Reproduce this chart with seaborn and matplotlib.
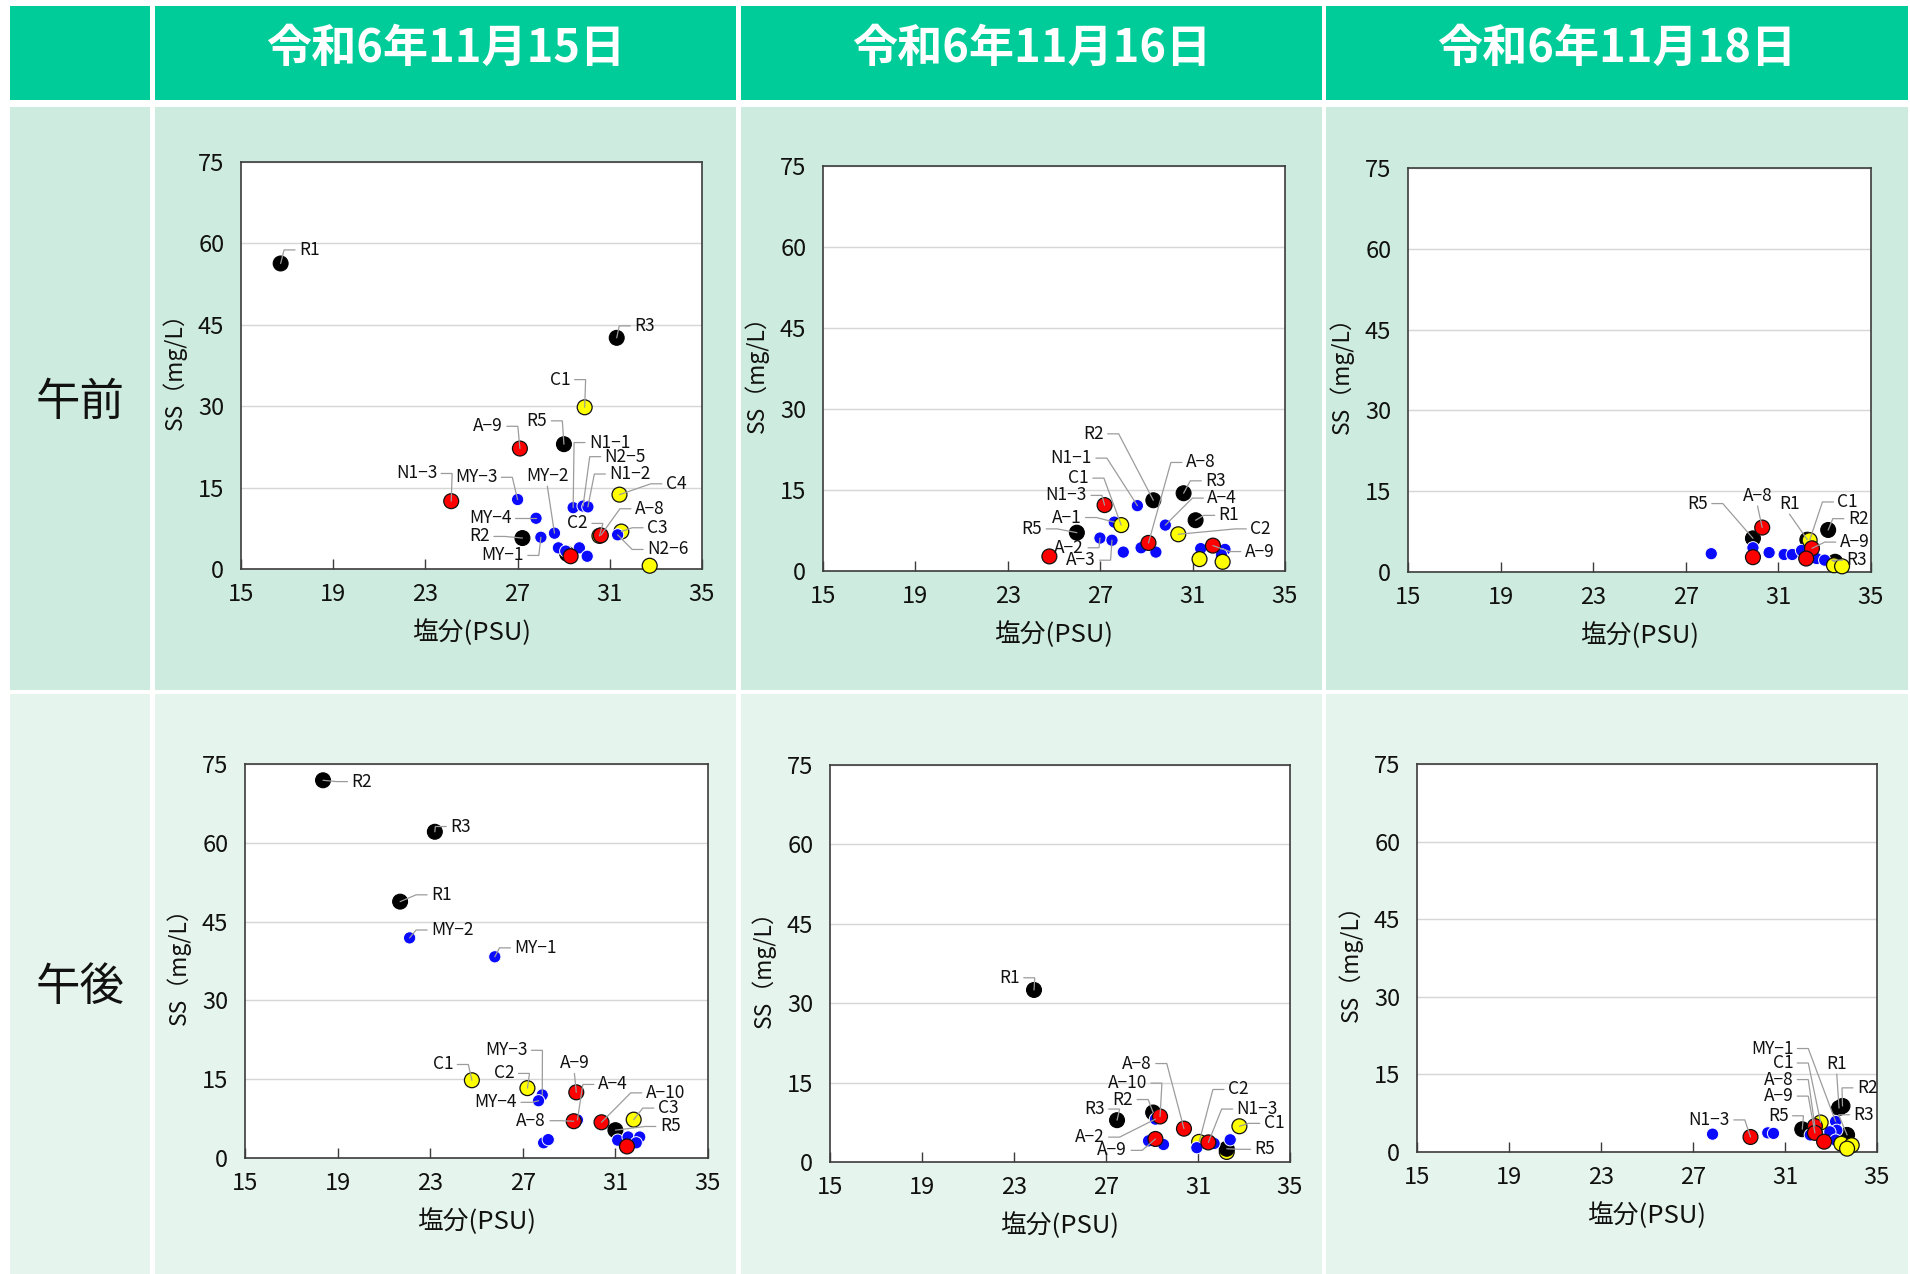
import numpy as np
import pandas as pd
import matplotlib
matplotlib.use("Agg")
import matplotlib.pyplot as plt
from matplotlib.patches import Rectangle
import seaborn as sns

# ---------------------------------------------------------------------------
# Data: salinity (PSU) and SS (mg/L) per station, per survey date / session.
# group: R = river mouth (black), A = red, C = yellow, M = blue
# labels: station -> (text x, text y, side)  side L: text left of leader,
#         R: text right of leader, B: leader leaves from below the text
# ---------------------------------------------------------------------------
dates = ["令和6年11月15日", "令和6年11月16日", "令和6年11月18日"]
sessions = ["午前", "午後"]

# 11/15 午前
am15_station = ["R1", "R3", "R5", "R2", "", "C1", "C4", "C2", "C3", "",
                "MY-3", "MY-4", "MY-1", "MY-2", "N1-1", "N2-5", "N1-2", "N2-6", "", "", "", "",
                "A-9", "N1-3", "A-8", ""]
am15_salinity = [16.72, 31.3, 29.01, 27.21, 29.15, 29.91, 31.42, 30.55, 31.5, 32.73,
                 27.0, 27.8, 28.01, 28.6, 29.41, 29.84, 30.05, 31.34, 28.77, 29.09, 29.68, 30.02,
                 27.1, 24.12, 30.61, 29.3]
am15_ss = [56.3, 42.6, 23.0, 5.7, 2.8, 29.8, 13.7, 6.1, 6.9, 0.6,
           12.8, 9.35, 5.85, 6.6, 11.3, 11.6, 11.45, 6.3, 3.9, 3.3, 3.9, 2.35,
           22.2, 12.5, 6.2, 2.35]
am15_group = ["R", "R", "R", "R", "R", "C", "C", "C", "C", "C",
              "M", "M", "M", "M", "M", "M", "M", "M", "M", "M", "M", "M",
              "A", "A", "A", "A"]
am15_labels = {
    "R1": (17.52, 58.8, "R"), "R3": (32.06, 44.8, "R"), "C1": (29.3, 34.9, "L"),
    "A-9": (26.36, 26.3, "L"), "R5": (28.29, 27.3, "L"), "N1-1": (30.1, 23.3, "R"),
    "N2-5": (30.78, 20.7, "R"), "N1-2": (30.98, 17.5, "R"), "C4": (33.43, 15.7, "R"),
    "A-8": (32.09, 11.1, "R"), "C2": (30.05, 8.4, "L"), "C3": (32.62, 7.6, "R"),
    "N2-6": (32.62, 3.6, "R"), "N1-3": (23.51, 17.6, "L"), "MY-3": (26.12, 16.9, "L"),
    "MY-2": (28.29, 17.1, "B"), "MY-4": (26.73, 9.35, "L"), "R2": (25.8, 6.0, "L"),
    "MY-1": (27.27, 2.5, "L"),
}

# 11/16 午前
am16_station = ["R2", "R3", "R1", "R5",
                "N1-1", "A-1", "A-4", "A-2", "A-3", "", "", "", "", "", "",
                "C1", "C2", "", "",
                "N1-3", "A-8", "A-9", ""]
am16_salinity = [29.3, 30.61, 31.13, 25.99,
                 28.61, 27.61, 29.82, 26.99, 27.51, 28.0, 28.77, 29.41, 31.35, 32.4, 32.25,
                 27.91, 30.38, 31.3, 32.3,
                 27.19, 29.09, 31.88, 24.8]
am16_ss = [13.1, 14.4, 9.4, 7.1,
           12.1, 9.05, 8.5, 6.1, 5.7, 3.5, 4.3, 3.5, 4.15, 4.0, 3.0,
           8.5, 6.8, 2.2, 1.7,
           12.2, 5.2, 4.7, 2.7]
am16_group = ["R", "R", "R", "R",
              "M", "M", "M", "M", "M", "M", "M", "M", "M", "M", "M",
              "C", "C", "C", "C",
              "A", "A", "A", "A"]
am16_labels = {
    "R2": (27.15, 25.4, "L"), "N1-1": (26.64, 20.9, "L"), "A-8": (30.71, 20.1, "R"),
    "C1": (26.51, 17.2, "L"), "R3": (31.55, 16.7, "R"), "N1-3": (26.43, 14.0, "L"),
    "A-4": (31.64, 13.5, "R"), "R1": (32.13, 10.3, "R"), "A-1": (26.19, 9.9, "L"),
    "C2": (33.5, 7.8, "R"), "R5": (24.49, 7.8, "L"), "A-2": (26.3, 4.3, "L"),
    "A-9": (33.26, 3.6, "R"), "A-3": (26.8, 2.0, "L"),
}

# 11/18 午前
am18_station = ["R5", "R1", "R2", "R3",
                "", "", "", "", "", "", "", "",
                "C1", "", "",
                "A-8", "A-9", "", ""]
am18_salinity = [29.9, 32.25, 33.15, 33.45,
                 28.1, 29.9, 30.6, 31.25, 31.6, 32.0, 32.65, 33.0,
                 32.35, 33.4, 33.75,
                 30.3, 32.45, 29.9, 32.2]
am18_ss = [6.25, 6.0, 7.8, 1.9,
           3.4, 4.5, 3.6, 3.25, 3.25, 4.0, 2.5, 2.2,
           5.9, 1.25, 1.05,
           8.25, 4.4, 2.75, 2.5]
am18_group = ["R", "R", "R", "R",
              "M", "M", "M", "M", "M", "M", "M", "M",
              "C", "C", "C",
              "A", "A", "A", "A"]
am18_labels = {
    "R5": (27.95, 12.7, "L"), "A-8": (30.1, 14.1, "B"), "R1": (31.48, 12.6, "B"),
    "C1": (33.55, 13.0, "R"), "R2": (34.0, 9.9, "R"), "A-9": (33.65, 5.55, "R"),
    "R3": (33.95, 2.2, "R"),
}

# 11/15 午後
pm15_station = ["R2", "R3", "R1", "R5",
                "C1", "C2", "C3",
                "MY-2", "MY-1", "MY-3", "MY-4", "A-4", "", "", "", "", "", "",
                "A-9", "A-8", "A-10", ""]
pm15_salinity = [18.37, 23.2, 21.7, 31.0,
                 24.8, 27.2, 31.79,
                 22.11, 25.79, 27.84, 27.68, 29.36, 27.9, 28.1, 31.1, 31.55, 32.05, 31.9,
                 29.31, 29.2, 30.4, 31.5]
pm15_ss = [71.9, 62.1, 48.8, 5.3,
           14.8, 13.3, 7.3,
           41.9, 38.3, 12.0, 10.9, 7.25, 2.9, 3.5, 3.4, 4.0, 4.0, 2.9,
           12.5, 7.0, 6.8, 2.2]
pm15_group = ["R", "R", "R", "R",
              "C", "C", "C",
              "M", "M", "M", "M", "M", "M", "M", "M", "M", "M", "M",
              "A", "A", "A", "A"]
pm15_labels = {
    "R2": (19.6, 71.65, "R"), "R3": (23.87, 63.1, "R"), "R1": (23.04, 50.1, "R"),
    "MY-2": (23.04, 43.4, "R"), "MY-1": (26.64, 40.0, "R"), "C1": (24.0, 17.8, "L"),
    "MY-3": (27.2, 20.5, "L"), "A-9": (29.23, 18.0, "B"), "C2": (26.64, 16.1, "L"),
    "A-4": (30.24, 14.0, "R"), "A-10": (32.31, 12.4, "R"), "MY-4": (26.75, 10.6, "L"),
    "C3": (32.83, 9.5, "R"), "A-8": (28.0, 7.1, "L"), "R5": (32.92, 6.0, "R"),
}

# 11/16 午後
pm16_station = ["R1", "R3", "R2",
                "C2", "C1", "",
                "R5",
                "A-2", "", "", "", "", "",
                "A-10", "A-8", "A-9", "N1-3"]
pm16_salinity = [23.87, 27.48, 29.05,
                 31.05, 32.8, 32.25,
                 32.25,
                 29.15, 28.85, 29.5, 30.95, 31.7, 32.4,
                 29.35, 30.39, 29.15, 31.45]
pm16_ss = [32.5, 7.9, 9.35,
           3.8, 6.75, 1.9,
           2.5,
           8.1, 4.0, 3.3, 2.7, 3.5, 4.2,
           8.6, 6.3, 4.35, 3.7]
pm16_group = ["R", "R", "R",
              "C", "C", "C",
              "R",
              "M", "M", "M", "M", "M", "M",
              "A", "A", "A", "A"]
pm16_labels = {
    "R1": (23.25, 34.8, "L"), "A-8": (28.99, 18.6, "L"), "A-10": (28.78, 14.9, "L"),
    "R2": (28.18, 11.8, "L"), "R3": (26.94, 10.0, "L"), "C2": (32.3, 13.7, "R"),
    "N1-3": (32.68, 10.0, "R"), "C1": (33.86, 7.3, "R"), "A-2": (26.94, 4.7, "L"),
    "A-9": (27.92, 2.2, "L"), "R5": (33.46, 2.4, "R"),
}

# 11/18 午後
pm18_station = ["R5", "R1", "R2", "R3",
                "", "", "", "", "MY-1", "", "", "",
                "C1", "", "", "",
                "N1-3", "A-8", "A-9", ""]
pm18_salinity = [31.75, 33.35, 33.5, 33.7,
                 27.85, 30.25, 30.5, 32.1, 33.2, 33.25, 32.95, 33.2,
                 32.55, 33.45, 33.9, 33.7,
                 29.5, 32.3, 32.3, 32.7]
pm18_ss = [4.4, 8.5, 8.9, 3.3,
           3.45, 3.7, 3.6, 3.3, 5.9, 4.2, 3.9, 2.3,
           5.7, 1.6, 1.3, 0.65,
           2.9, 5.0, 3.7, 2.0]
pm18_group = ["R", "R", "R", "R",
              "M", "M", "M", "M", "M", "M", "M", "M",
              "C", "C", "C", "C",
              "A", "A", "A", "A"]
pm18_labels = {
    "MY-1": (31.36, 20.0, "L"), "C1": (31.36, 17.2, "L"), "R1": (33.25, 17.0, "B"),
    "A-8": (31.36, 14.0, "L"), "R2": (34.13, 12.4, "R"), "A-9": (31.36, 10.8, "L"),
    "R3": (33.98, 7.2, "R"), "R5": (31.15, 7.0, "L"), "N1-3": (28.6, 6.2, "L"),
}

x_ticks = [15, 19, 23, 27, 31, 35]
y_ticks = [0, 15, 30, 45, 60, 75]

# ---------------------------------------------------------------------------
# Style
# ---------------------------------------------------------------------------
sns.set_theme(style="white")
plt.rcParams["font.family"] = ["Noto Sans CJK JP", "DejaVu Sans"]

fill_colors = {"R": "#000000", "A": "#ff0000", "C": "#ffff00", "M": "#0a0aff"}
marker_sizes = {"R": 115, "A": 115, "C": 115, "M": 78}
edge_colors = {"R": "#000000", "A": "#111111", "C": "#111111", "M": "#ffffff"}
edge_widths = {"R": 0.8, "A": 0.9, "C": 0.9, "M": 0.7}

W, H = 1910, 1274
fig = plt.figure(figsize=(W / 100, H / 100), dpi=100)
fig.patch.set_facecolor("white")

# Table background (pixel coordinates)
bg = fig.add_axes([0, 0, 1, 1], zorder=0)
bg.set_xlim(0, W)
bg.set_ylim(H, 0)
bg.axis("off")

header_color = "#00cc99"
row_colors = ["#cdebde", "#e6f4ee"]
col_edges = [(10, 150), (155, 736), (741, 1322), (1326, 1908)]
header_span = (6, 100)
row_spans = [(107, 690), (694, 1274)]

for x0, x1 in col_edges:
    bg.add_patch(Rectangle((x0, header_span[0]), x1 - x0, header_span[1] - header_span[0],
                           facecolor=header_color, edgecolor="none"))
    for (y0, y1), c in zip(row_spans, row_colors):
        bg.add_patch(Rectangle((x0, y0), x1 - x0, y1 - y0, facecolor=c, edgecolor="none"))

for (x0, x1), d in zip(col_edges[1:], dates):
    bg.text((x0 + x1) / 2, 49, d, ha="center", va="center", color="white",
            fontsize=32.5, fontweight="bold")

for (y0, y1), s in zip(row_spans, sessions):
    bg.text(80, (y0 + y1) / 2 + 3, s, ha="center", va="center", color="#111111", fontsize=32)

# Plot rectangles in pixels: left, right, top, bottom
panel_rects = [
    [(241, 702, 162, 569), (823, 1285, 166, 571), (1408, 1871, 168, 572)],
    [(245, 708, 764, 1158), (830, 1290, 765, 1162), (1417, 1877, 764, 1152)],
]

panels = [
    [(am15_station, am15_salinity, am15_ss, am15_group, am15_labels),
     (am16_station, am16_salinity, am16_ss, am16_group, am16_labels),
     (am18_station, am18_salinity, am18_ss, am18_group, am18_labels)],
    [(pm15_station, pm15_salinity, pm15_ss, pm15_group, pm15_labels),
     (pm16_station, pm16_salinity, pm16_ss, pm16_group, pm16_labels),
     (pm18_station, pm18_salinity, pm18_ss, pm18_group, pm18_labels)],
]


def draw_leader(ax, tx, ty, px, py, side):
    """Label leader: short horizontal stub from the text, then a straight run to the point."""
    T = ax.transData
    x0, y0 = T.transform((tx, ty))
    if side == "L":
        pts = [(x0 + 4, y0), (x0 + 15, y0)]
    elif side == "R":
        pts = [(x0 - 4, y0), (x0 - 15, y0)]
    else:
        pts = [(x0, y0 - 10)]
    pts.append(tuple(T.transform((px, py))))
    d = T.inverted().transform(np.array(pts))
    ax.plot(d[:, 0], d[:, 1], color="#9c9c9c", lw=0.9, zorder=4, clip_on=False,
            solid_joinstyle="miter")


for r in range(2):
    for c in range(3):
        station, sal, ss, grp, labels = panels[r][c]
        left, right, top, bottom = panel_rects[r][c]
        ax = fig.add_axes([left / W, 1 - bottom / H, (right - left) / W, (bottom - top) / H],
                          zorder=1)
        ax.set_facecolor("white")

        df = pd.DataFrame({"station": station, "salinity": sal, "ss": ss, "group": grp})
        sns.scatterplot(
            data=df, x="salinity", y="ss", hue="group", palette=fill_colors,
            size="group", sizes=marker_sizes,
            edgecolor=[edge_colors[g] for g in df["group"]],
            linewidth=[edge_widths[g] for g in df["group"]],
            legend=False, ax=ax, zorder=3, clip_on=False,
        )

        ax.set_xlim(15, 35)
        ax.set_ylim(0, 75)
        ax.set_xticks(x_ticks)
        ax.set_yticks(y_ticks)
        ax.set_axisbelow(True)
        ax.yaxis.grid(True, color="#d6d6d6", lw=1.0)
        ax.xaxis.grid(False)
        for sp in ax.spines.values():
            sp.set_color("#3c3c3c")
            sp.set_linewidth(1.2)
        ax.tick_params(axis="x", direction="in", length=7, width=1.0, color="#3c3c3c",
                       pad=10, labelsize=17, labelcolor="#111111", bottom=True)
        ax.tick_params(axis="y", length=0, pad=12, labelsize=17, labelcolor="#111111")

        ax.set_xlabel("塩分(PSU)", fontsize=18.5, color="#111111")
        ax.set_ylabel("SS（mg/L）", fontsize=16.5, color="#111111")
        pw, ph = right - left, bottom - top
        ax.xaxis.set_label_coords(0.5, -50 / ph)
        ax.yaxis.set_label_coords(-54 / pw, 0.5)

        lookup = {s: (x, y) for s, x, y in zip(station, sal, ss) if s}
        for name, (tx, ty, side) in labels.items():
            px, py = lookup[name]
            ha = {"L": "right", "R": "left", "B": "center"}[side]
            ax.text(tx, ty, name.replace("-", "−"), ha=ha, va="center", fontsize=12.5,
                    color="#111111", zorder=5, clip_on=False)
            draw_leader(ax, tx, ty, px, py, side)

fig.savefig("out.png", dpi=100, facecolor=fig.get_facecolor())
